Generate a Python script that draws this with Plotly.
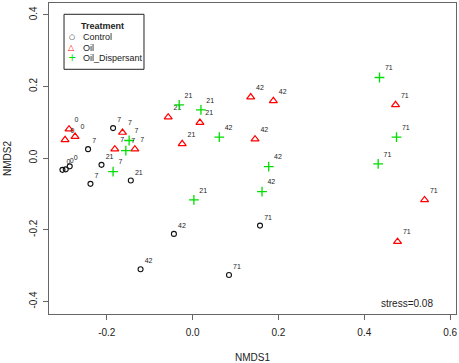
import plotly.graph_objects as go

# Control
ctrl_x = [-0.3033, -0.2956, -0.2863, -0.2436, -0.1853, -0.2380, -0.2123, -0.1440, -0.0436, -0.1213, 0.1570, 0.0847]
ctrl_y = [-0.0327, -0.0313, -0.0229, 0.0251, 0.0838, -0.0718, -0.0187, -0.0626, -0.2115, -0.3101, -0.1883, -0.3260]
ctrl_day = ["0", "0", "0", "7", "7", "7", "21", "21", "42", "42", "71", "71"]

# Oil
oil_x = [-0.2879, -0.2972, -0.2739, -0.1633, -0.1813, -0.1346, -0.0569, 0.0170, -0.0243, 0.1353, 0.1881, 0.1454, 0.4727, 0.5404, 0.4774]
oil_y = [0.0810, 0.0511, 0.0603, 0.0715, 0.0251, 0.0251, 0.1145, 0.0994, 0.0399, 0.1704, 0.1601, 0.0531, 0.1489, -0.1165, -0.2330]
oil_day = ["0", "0", "0", "7", "7", "7", "21", "21", "21", "42", "42", "42", "71", "71", "71"]

# Oil_Dispersant
od_x = [-0.1479, -0.1556, -0.1853, -0.0313, 0.0194, 0.0030, 0.0621, 0.1773, 0.1617, 0.4354, 0.4750, 0.4323]
od_y = [0.0492, 0.0212, -0.0374, 0.1489, 0.1349, -0.1165, 0.0587, -0.0235, -0.0933, 0.2251, 0.0587, -0.0159]
od_day = ["7", "7", "7", "21", "21", "21", "42", "42", "42", "71", "71", "71"]

x_ticks = [-0.2, 0.0, 0.2, 0.4, 0.6]
y_ticks = [-0.4, -0.2, 0.0, 0.2, 0.4]
stress_text = "stress=0.08"
legend_title = "Treatment"
groups = ["Control", "Oil", "Oil_Dispersant"]

BLACK = "#111111"
RED = "#ff0000"
GREEN = "#00dd00"
FONT = "Liberation Sans, Arial, sans-serif"
label_font = dict(size=7, color="#222", family=FONT)

fig = go.Figure()

fig.add_trace(go.Scatter(
    x=ctrl_x, y=ctrl_y, text=ctrl_day, mode="markers+text", name=groups[0], showlegend=False,
    marker=dict(symbol="circle-open", size=5, color=BLACK, line=dict(width=1.1)),
    textposition="top right", textfont=label_font,
))
fig.add_trace(go.Scatter(
    x=oil_x, y=oil_y, text=oil_day, mode="markers+text", name=groups[1], showlegend=False,
    marker=dict(symbol="triangle-up-open", size=7, color=RED, line=dict(width=1.2)),
    textposition="top right", textfont=label_font,
))
fig.add_trace(go.Scatter(
    x=od_x, y=od_y, text=od_day, mode="markers+text", name=groups[2], showlegend=False,
    marker=dict(symbol="cross-thin-open", size=7, color=GREEN, line=dict(width=1.3, color=GREEN)),
    textposition="top right", textfont=label_font,
))

# stress annotation
fig.add_annotation(
    text=stress_text, xref="paper", yref="paper", x=0.8789, y=0.0344,
    xanchor="center", yanchor="middle",
    showarrow=False, font=dict(size=10, color="#222", family=FONT),
)

# manual legend (R-style)
fig.add_shape(type="rect", xref="paper", yref="paper", x0=0.0369, x1=0.2334, y0=0.7868, y1=0.9637,
              line=dict(color="#222", width=1), fillcolor="white", layer="above")
fig.add_annotation(text=f"<b>{legend_title}</b>", xref="paper", yref="paper", x=0.1314, y=0.926,
                   xanchor="center", yanchor="middle",
                   showarrow=False, font=dict(size=9, color="#222", family=FONT))
legend_syms = ["○", "△", "+"]
legend_cols = [BLACK, RED, GREEN]
legend_sizes = [7, 8, 10]
legend_rows = [0.8917, 0.8563, 0.8241]
for g, s, c, fs, yr in zip(groups, legend_syms, legend_cols, legend_sizes, legend_rows):
    fig.add_annotation(text=s, xref="paper", yref="paper", x=0.0565, y=yr, showarrow=False,
                       xanchor="center", yanchor="middle",
                       font=dict(size=fs, color=c, family="DejaVu Sans"))
    fig.add_annotation(text=g, xref="paper", yref="paper", x=0.0786, y=yr, xanchor="left",
                       yanchor="middle",
                       showarrow=False, font=dict(size=9, color="#222", family=FONT))

axis_common = dict(
    showgrid=False, zeroline=False, showline=True, linecolor="#666", linewidth=1.3,
    mirror=True, ticks="outside", ticklen=5, tickcolor="#666", tickwidth=1,
    tickfont=dict(size=10, color="#222", family=FONT), automargin=False,
)

fig.update_layout(
    width=459, height=363,
    margin=dict(l=49, r=3, t=3, b=49),
    plot_bgcolor="white", paper_bgcolor="white",
    font=dict(family=FONT, color="#222"),
    showlegend=False,
    xaxis=dict(range=[-0.3346, 0.6136], tickvals=x_ticks, ticktext=[f"{v:.1f}" for v in x_ticks],
               ticklabelstandoff=4,
               title=dict(text="NMDS1", font=dict(size=10), standoff=18), **axis_common),
    yaxis=dict(range=[-0.435, 0.433], tickvals=y_ticks, ticktext=[f"{v:.1f}" for v in y_ticks],
               tickangle=-90, ticklabelstandoff=2,
               title=dict(text="NMDS2", font=dict(size=10), standoff=14), **axis_common),
)

fig.write_html("out.html", config={"displayModeBar": False},
               post_script="document.body.style.margin='0';document.body.style.padding='0';document.body.style.overflow='hidden';")
